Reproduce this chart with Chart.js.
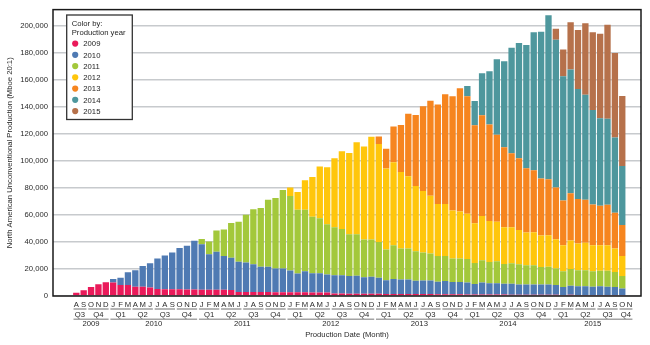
<!DOCTYPE html>
<html>
<head>
<meta charset="utf-8">
<script src="https://cdn.jsdelivr.net/npm/chart.js@4.4.1/dist/chart.umd.min.js"></script>
<style>
html,body{margin:0;padding:0;background:#fff;}
#wrap{width:650px;height:345px;position:relative;}
</style>
</head>
<body>
<div id="wrap"><canvas id="c" width="650" height="345"></canvas></div>
<script>
// ---- Categories: monthly, Aug 2009 .. Nov 2015 ----
const monthLabels = [
  'A','S','O','N','D',
  'J','F','M','A','M','J','J','A','S','O','N','D',
  'J','F','M','A','M','J','J','A','S','O','N','D',
  'J','F','M','A','M','J','J','A','S','O','N','D',
  'J','F','M','A','M','J','J','A','S','O','N','D',
  'J','F','M','A','M','J','J','A','S','O','N','D',
  'J','F','M','A','M','J','J','A','S','O','N'
];
const firstMonthOfYear = 7;          // first category is August (0-based month 7)
const yearLabels = ['2009','2010','2011','2012','2013','2014','2015'];
const quarterLabels = ['Q1','Q2','Q3','Q4'];
const seriesNames = ['2009','2010','2011','2012','2013','2014','2015'];
const seriesColors = ['#ea1a5a','#4f7ab3','#a3c83b','#ffc60c','#f6851f','#4e979d','#b6714b'];
const legendTitle = ['Color by:', 'Production year'];
const yTitle = 'North American Unconventional Production (Mboe 20:1)';
const xTitle = 'Production Date (Month)';
const yTicks = [0,20000,40000,60000,80000,100000,120000,140000,160000,180000,200000];

// ---- Values (thousand Mboe per month), each series listed from its production year onward ----
const p2009 = [2.4,4.2,6.6,8.6,10.2,
  10.0,8.1,8.1,6.8,6.8,6.2,5.1,5.0,5.0,4.9,4.8,4.8,
  4.7,4.7,4.6,4.6,4.5,3.0,3.0,2.9,2.9,2.9,2.8,2.8,
  2.8,2.7,2.7,2.6,2.6,2.6,1.8,1.8,1.7,1.7,1.7,1.6,
  1.6,1.5,1.5,1.5,1.5,1.4,1.4,1.4,1.3,1.3,1.3,1.3,
  1.2,1.1,1.2,1.1,1.1,1.1,1.0,1.0,1.0,1.0,1.0,0.9,
  0.9,0.8,0.9,0.8,0.8,0.8,0.8,0.8,0.7,0.7];
const p2010 = [2.5,5.3,9.5,12.2,15.4,18.0,22.7,25.0,27.2,30.5,32.3,36.0,
  33.6,26.1,28.1,24.9,23.8,22.4,21.7,20.5,18.8,18.8,17.5,17.5,
  16.0,14.0,15.6,14.2,14.2,13.3,13.6,13.6,13.0,13.2,12.2,12.6,
  11.8,10.2,11.0,10.7,10.7,9.8,10.1,10.1,9.2,9.7,9.0,9.0,
  8.8,7.7,8.8,8.4,8.4,7.9,8.0,7.5,7.5,7.5,7.5,7.6,
  7.2,5.8,6.7,6.5,6.5,6.0,6.5,6.0,5.9,4.9];
const p2011 = [3.9,9.5,15.7,19.6,25.7,29.5,35.4,40.8,43.3,49.4,52.2,58.1,
  55.2,47.1,45.4,41.8,40.6,37.1,35.4,34.2,31.0,30.8,27.9,27.6,
  26.6,22.7,25.1,23.0,23.0,21.8,20.7,20.0,19.0,18.5,17.5,17.5,
  17.3,15.6,16.4,15.6,16.1,14.7,15.2,14.9,14.2,14.2,13.0,13.2,
  12.2,11.7,12.4,11.7,11.7,11.5,11.3,11.8,11.2,9.1];
const p2012 = [6.3,13.1,21.8,29.3,38.3,42.2,51.0,57.4,60.0,67.9,68.8,75.9,
  72.3,59.9,61.3,56.4,53.4,48.3,45.5,42.7,38.6,38.6,35.4,34.7,
  33.5,29.3,32.7,30.3,29.3,27.1,26.6,25.4,24.2,24.4,23.2,23.2,
  21.7,19.3,21.0,19.8,20.3,19.3,19.0,19.0,17.4,14.8];
const p2013 = [5.6,14.6,26.4,34.9,46.2,52.5,62.5,70.1,73.5,81.1,84.5,91.1,
  86.9,72.5,74.5,71.3,64.3,59.1,54.7,53.0,47.6,45.9,42.2,41.5,
  38.3,33.0,34.9,33.0,31.8,30.0,29.1,29.8,26.3,23.0];
const p2014 = [7.6,17.9,31.0,39.4,55.9,63.7,78.1,85.3,91.1,101.9,108.5,121.2,
  109.2,91.8,91.6,81.3,77.6,69.9,64.7,63.7,55.7,43.7];
const p2015 = [8.1,19.8,34.9,43.5,53.0,57.4,62.5,69.4,62.5,51.6];
const seriesValues = [p2009,p2010,p2011,p2012,p2013,p2014,p2015];

// ---- helpers ----
const N = monthLabels.length;
const yearOf = i => Math.floor((firstMonthOfYear + i) / 12);       // index into yearLabels
const monthOf = i => (firstMonthOfYear + i) % 12;
const startIndex = y => { for (let i = 0; i < N; i++) if (yearOf(i) === y) return i; return 0; };

const FONT_FAMILY = '"Liberation Sans", Arial, Helvetica, sans-serif';
const FONT_SIZE = 7.7;
const FONT = FONT_SIZE + 'px ' + FONT_FAMILY;

const datasets = seriesValues.map((vals, s) => {
  const st = startIndex(s);
  const data = [];
  for (let i = 0; i < N; i++) {
    const k = i - st;
    const v = (k >= 0 && k < vals.length) ? vals[k] * 1000 : null;
    data.push({ x: i, y: v });
  }
  return {
    label: seriesNames[s],
    data,
    backgroundColor: seriesColors[s],
    borderWidth: 0,
    barPercentage: 0.86,
    categoryPercentage: 1.0
  };
});

const decorPlugin = {
  id: 'decor',
  afterDraw(chart) {
    const ctx = chart.ctx, a = chart.chartArea, xs = chart.scales.x;
    const px = i => xs.getPixelForValue(i);
    const pitch = px(1) - px(0);
    ctx.save();

    // frame
    ctx.strokeStyle = '#1a1a1a';
    ctx.lineWidth = 1.5;
    ctx.strokeRect(a.left, a.top, a.right - a.left, a.bottom - a.top);

    // month letters
    ctx.font = FONT;
    ctx.fillStyle = '#2a2a2a';
    ctx.textAlign = 'center';
    ctx.textBaseline = 'alphabetic';
    for (let i = 0; i < N; i++) ctx.fillText(monthLabels[i], px(i), a.bottom + 10.7);

    // quarter and year groups
    const qGroups = [], yGroups = [];
    for (let i = 0; i < N; i++) {
      const y = yearOf(i), q = Math.floor(monthOf(i) / 3);
      const qk = y * 4 + q;
      if (!qGroups.length || qGroups[qGroups.length - 1].key !== qk) qGroups.push({ key: qk, label: quarterLabels[q], s: i, e: i });
      else qGroups[qGroups.length - 1].e = i;
      if (!yGroups.length || yGroups[yGroups.length - 1].key !== y) yGroups.push({ key: y, label: yearLabels[y], s: i, e: i });
      else yGroups[yGroups.length - 1].e = i;
    }
    ctx.strokeStyle = '#a4a4a4';
    ctx.lineWidth = 1.6;
    const drawGroups = (groups, lineY, textY) => {
      groups.forEach(g => {
        const x0 = px(g.s) - pitch / 2 + 0.9, x1 = px(g.e) + pitch / 2 - 0.9;
        ctx.beginPath(); ctx.moveTo(x0, lineY); ctx.lineTo(x1, lineY); ctx.stroke();
        ctx.fillText(g.label, (x0 + x1) / 2, textY);
      });
    };
    drawGroups(qGroups, a.bottom + 13, a.bottom + 21);
    drawGroups(yGroups, a.bottom + 23.2, a.bottom + 30.3);

    // axis titles
    ctx.fillText(xTitle, (a.left + a.right) / 2, a.bottom + 41.3);
    ctx.save();
    ctx.translate(10.3, (a.top + a.bottom) / 2);
    ctx.rotate(-Math.PI / 2);
    ctx.textBaseline = 'middle';
    ctx.fillText(yTitle, 0, 0);
    ctx.restore();

    // legend box
    const lx = 66.7, ly = 15, lw = 65.6, lh = 104.5;
    ctx.fillStyle = '#ffffff';
    ctx.fillRect(lx, ly, lw, lh);
    ctx.strokeStyle = '#333333';
    ctx.lineWidth = 1.3;
    ctx.strokeRect(lx, ly, lw, lh);
    ctx.fillStyle = '#1e1e1e';
    ctx.textAlign = 'left';
    ctx.textBaseline = 'alphabetic';
    ctx.fillText(legendTitle[0], 71.7, 26.1);
    ctx.fillText(legendTitle[1], 71.7, 35.3);
    chart.data.datasets.forEach((ds, k) => {
      const base = 46.3 + k * 11.25;
      ctx.fillStyle = ds.backgroundColor;
      ctx.beginPath(); ctx.arc(75.2, base - 2.7, 3.1, 0, Math.PI * 2); ctx.fill();
      ctx.fillStyle = '#1e1e1e';
      ctx.fillText(ds.label, 83.3, base);
    });
    ctx.restore();
  }
};

new Chart(document.getElementById('c'), {
  type: 'bar',
  data: { datasets },
  options: {
    responsive: false,
    animation: false,
    devicePixelRatio: 1,
    layout: { padding: { top: 7, right: 9, bottom: 49, left: 0 } },
    plugins: { legend: { display: false }, tooltip: { enabled: false } },
    scales: {
      x: {
        type: 'linear', min: -3.158, max: 76.54, offset: false, stacked: true, display: false
      },
      y: {
        stacked: true, min: 0, max: 211722,
        afterFit: s => { s.width = 53; },
        afterBuildTicks: s => { s.ticks = yTicks.map(v => ({ value: v })); },
        border: { display: false },
        grid: { color: '#c7cacd', lineWidth: 1.6, drawTicks: false },
        ticks: {
          padding: 5, color: '#2a2a2a',
          font: { family: FONT_FAMILY, size: FONT_SIZE },
          callback: v => v.toLocaleString('en-US')
        }
      }
    }
  },
  plugins: [decorPlugin]
});
</script>
</body>
</html>
